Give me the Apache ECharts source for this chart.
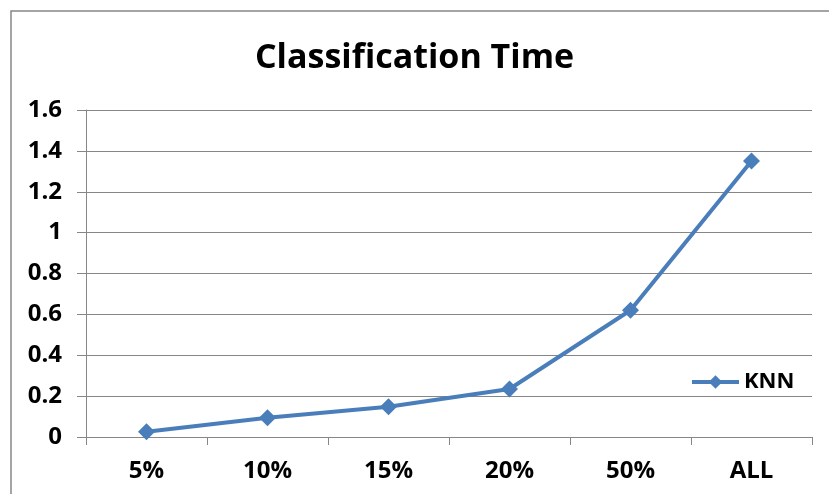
<!DOCTYPE html>
<html><head><meta charset="utf-8">
<script src="https://cdn.jsdelivr.net/npm/echarts@6/dist/echarts.min.js"></script>
<style>html,body{margin:0;padding:0;background:#fff}#c{width:829px;height:494px}</style>
</head><body><div id="c"></div>
<script>
const categories = ['5%', '10%', '15%', '20%', '50%', 'ALL'];
const knnValues = [0.026, 0.094, 0.148, 0.235, 0.62, 1.35];
const seriesName = 'KNN';
const titleText = 'Classification Time';

const chart = echarts.init(document.getElementById('c'), null, {renderer: 'canvas'});
const font = '"Open Sans", "Liberation Sans", sans-serif';
chart.setOption({
  animation: false,
  backgroundColor: '#fff',
  title: {
    text: titleText, left: 'center', top: 36,
    textStyle: {fontFamily: font, fontWeight: 'bold', fontSize: 34, color: '#000'}
  },
  graphic: [{
    type: 'rect', shape: {x: 11, y: 11, width: 900, height: 600},
    style: {fill: 'none', stroke: '#868686', lineWidth: 1.5}, silent: true, z: -1
  }],
  legend: {
    left: 690, top: 371, padding: 0, itemWidth: 47, itemHeight: 17, itemGap: 5,
    lineStyle: {width: 4},
    textStyle: {fontFamily: font, fontWeight: 'bold', fontSize: 22, color: '#000'},
    data: [seriesName]
  },
  grid: {left: 86, right: 17, top: 110, bottom: 57, containLabel: false},
  xAxis: {
    type: 'category', data: categories, boundaryGap: true,
    axisLine: {lineStyle: {color: '#868686', width: 1}},
    axisTick: {show: true, length: 8, lineStyle: {color: '#868686'}},
    axisLabel: {fontFamily: font, fontWeight: 'bold', fontSize: 24, color: '#000', margin: 22}
  },
  yAxis: {
    type: 'value', min: 0, max: 1.6, interval: 0.2,
    axisLine: {show: true, lineStyle: {color: '#868686', width: 1}},
    axisTick: {show: true, length: 9, lineStyle: {color: '#868686'}},
    splitLine: {lineStyle: {color: '#868686', width: 1}},
    axisLabel: {fontFamily: font, fontWeight: 'bold', fontSize: 24, color: '#000', margin: 24,
      formatter: v => String(Math.round(v * 10) / 10)}
  },
  series: [{
    name: seriesName, type: 'line', data: knnValues,
    symbol: 'diamond', symbolSize: 17,
    lineStyle: {color: '#4a7ebb', width: 4},
    itemStyle: {color: '#4a7ebb'}
  }]
});
</script></body></html>
